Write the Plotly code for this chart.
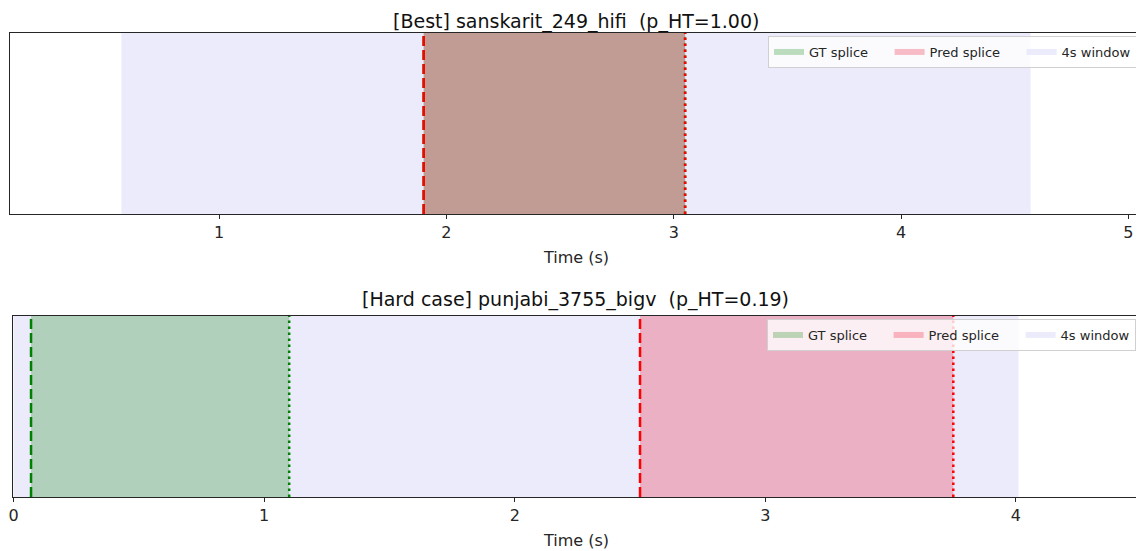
import plotly.graph_objects as go

# ---- data ----
titles = ["[Best] sanskarit_249_hifi  (p_HT=1.00)",
          "[Hard case] punjabi_3755_bigv  (p_HT=0.19)"]
x_ranges = [[0.08, 5.06], [-0.002, 4.487]]
window_spans = [[0.57, 4.57], [0.0, 4.01]]
gt_spans = [[1.90, 3.05], [0.07, 1.10]]
pred_spans = [[1.90, 3.05], [2.50, 3.75]]
tick_vals = [[1, 2, 3, 4, 5], [0, 1, 2, 3, 4]]
xlabel = "Time (s)"
legend_names = ["GT splice", "Pred splice", "4s window"]

# page has an 8px body margin; build figure so it fits in 1144x551 window
OFF = 8
W, H = 1144 - OFF, 551 - OFF
# plot areas in reference pixels: (left, right, top, bottom)
areas = [(10, 1142, 33, 214), (13, 1138, 316, 497)]
title_y = [21, 299]

PAD = "\u00a0" * 4  # extra gap between legend entries

fig = go.Figure()

def rect(span):
    a, b = span
    return [a, a, b, b, a], [0, 1, 1, 0, 0]

for i in range(2):
    xa = "x" if i == 0 else "x2"
    ya = "y" if i == 0 else "y2"
    lg = "legend" if i == 0 else "legend2"
    xs, ys = rect(window_spans[i])
    fig.add_trace(go.Scatter(x=xs, y=ys, fill="toself", mode="none",
                             fillcolor="rgba(230,230,250,0.8)", name=legend_names[2],
                             legend=lg, legendrank=3, xaxis=xa, yaxis=ya,
                             hoverinfo="skip"))
    xs, ys = rect(gt_spans[i])
    fig.add_trace(go.Scatter(x=xs, y=ys, fill="toself", mode="none",
                             fillcolor="rgba(0,128,0,0.25)", name=legend_names[0] + PAD,
                             legend=lg, legendrank=1, xaxis=xa, yaxis=ya,
                             hoverinfo="skip"))
    xs, ys = rect(pred_spans[i])
    fig.add_trace(go.Scatter(x=xs, y=ys, fill="toself", mode="none",
                             fillcolor="rgba(240,0,30,0.25)", name=legend_names[1] + PAD,
                             legend=lg, legendrank=2, xaxis=xa, yaxis=ya,
                             hoverinfo="skip"))
    for span, col in ((gt_spans[i], "green"), (pred_spans[i], "red")):
        for xv, dash in ((span[0], "10px,4px"), (span[1], "2.5px,3.5px")):
            fig.add_trace(go.Scatter(x=[xv, xv], y=[0, 1], mode="lines",
                                     line=dict(color=col, width=2.5, dash=dash),
                                     showlegend=False, xaxis=xa, yaxis=ya,
                                     hoverinfo="skip"))

layout = dict(width=W, height=H, margin=dict(l=0, r=0, t=0, b=0, autoexpand=False),
              plot_bgcolor="white", paper_bgcolor="white",
              font=dict(family="DejaVu Sans", color="#262626", size=16))

def px(xp):
    return min(1.0, max(0.0, (xp - OFF) / W))

def py(yp):
    return min(1.0, max(0.0, 1 - (yp - OFF) / H))

annotations = []
for i, (l, r, t, b) in enumerate(areas):
    sfx = "" if i == 0 else "2"
    layout["xaxis" + sfx] = dict(
        domain=[px(l), px(r)], range=x_ranges[i], anchor="y" + sfx,
        tickvals=tick_vals[i], ticks="outside", ticklen=4, tickcolor="#262626",
        showline=True, linecolor="#262626", linewidth=1, mirror=True,
        showgrid=False, zeroline=False, tickfont=dict(size=16), automargin=False)
    layout["yaxis" + sfx] = dict(
        domain=[py(b), py(t)], range=[0, 1], anchor="x" + sfx,
        showticklabels=False, ticks="", showline=True, linecolor="#262626",
        linewidth=1, mirror=True, showgrid=False, zeroline=False, automargin=False)
    annotations.append(dict(text=titles[i], x=px((l + r) / 2), y=py(title_y[i]),
                            xref="paper", yref="paper", xanchor="center",
                            yanchor="middle", showarrow=False,
                            font=dict(size=19, color="#111")))
    annotations.append(dict(text=xlabel, x=px((l + r) / 2), y=py(b + 43),
                            xref="paper", yref="paper", xanchor="center",
                            yanchor="middle", showarrow=False,
                            font=dict(size=16)))
    layout["legend" if i == 0 else "legend2"] = dict(
        x=px(1137 if i == 0 else 1136), y=py(t + 3), xanchor="right", yanchor="top",
        orientation="h", bgcolor="rgba(255,255,255,0.8)",
        bordercolor="#d0d0d0", borderwidth=1, font=dict(size=13),
        traceorder="normal", itemwidth=30)

layout["annotations"] = annotations
fig.update_layout(**layout)
fig.write_html("out.html")
